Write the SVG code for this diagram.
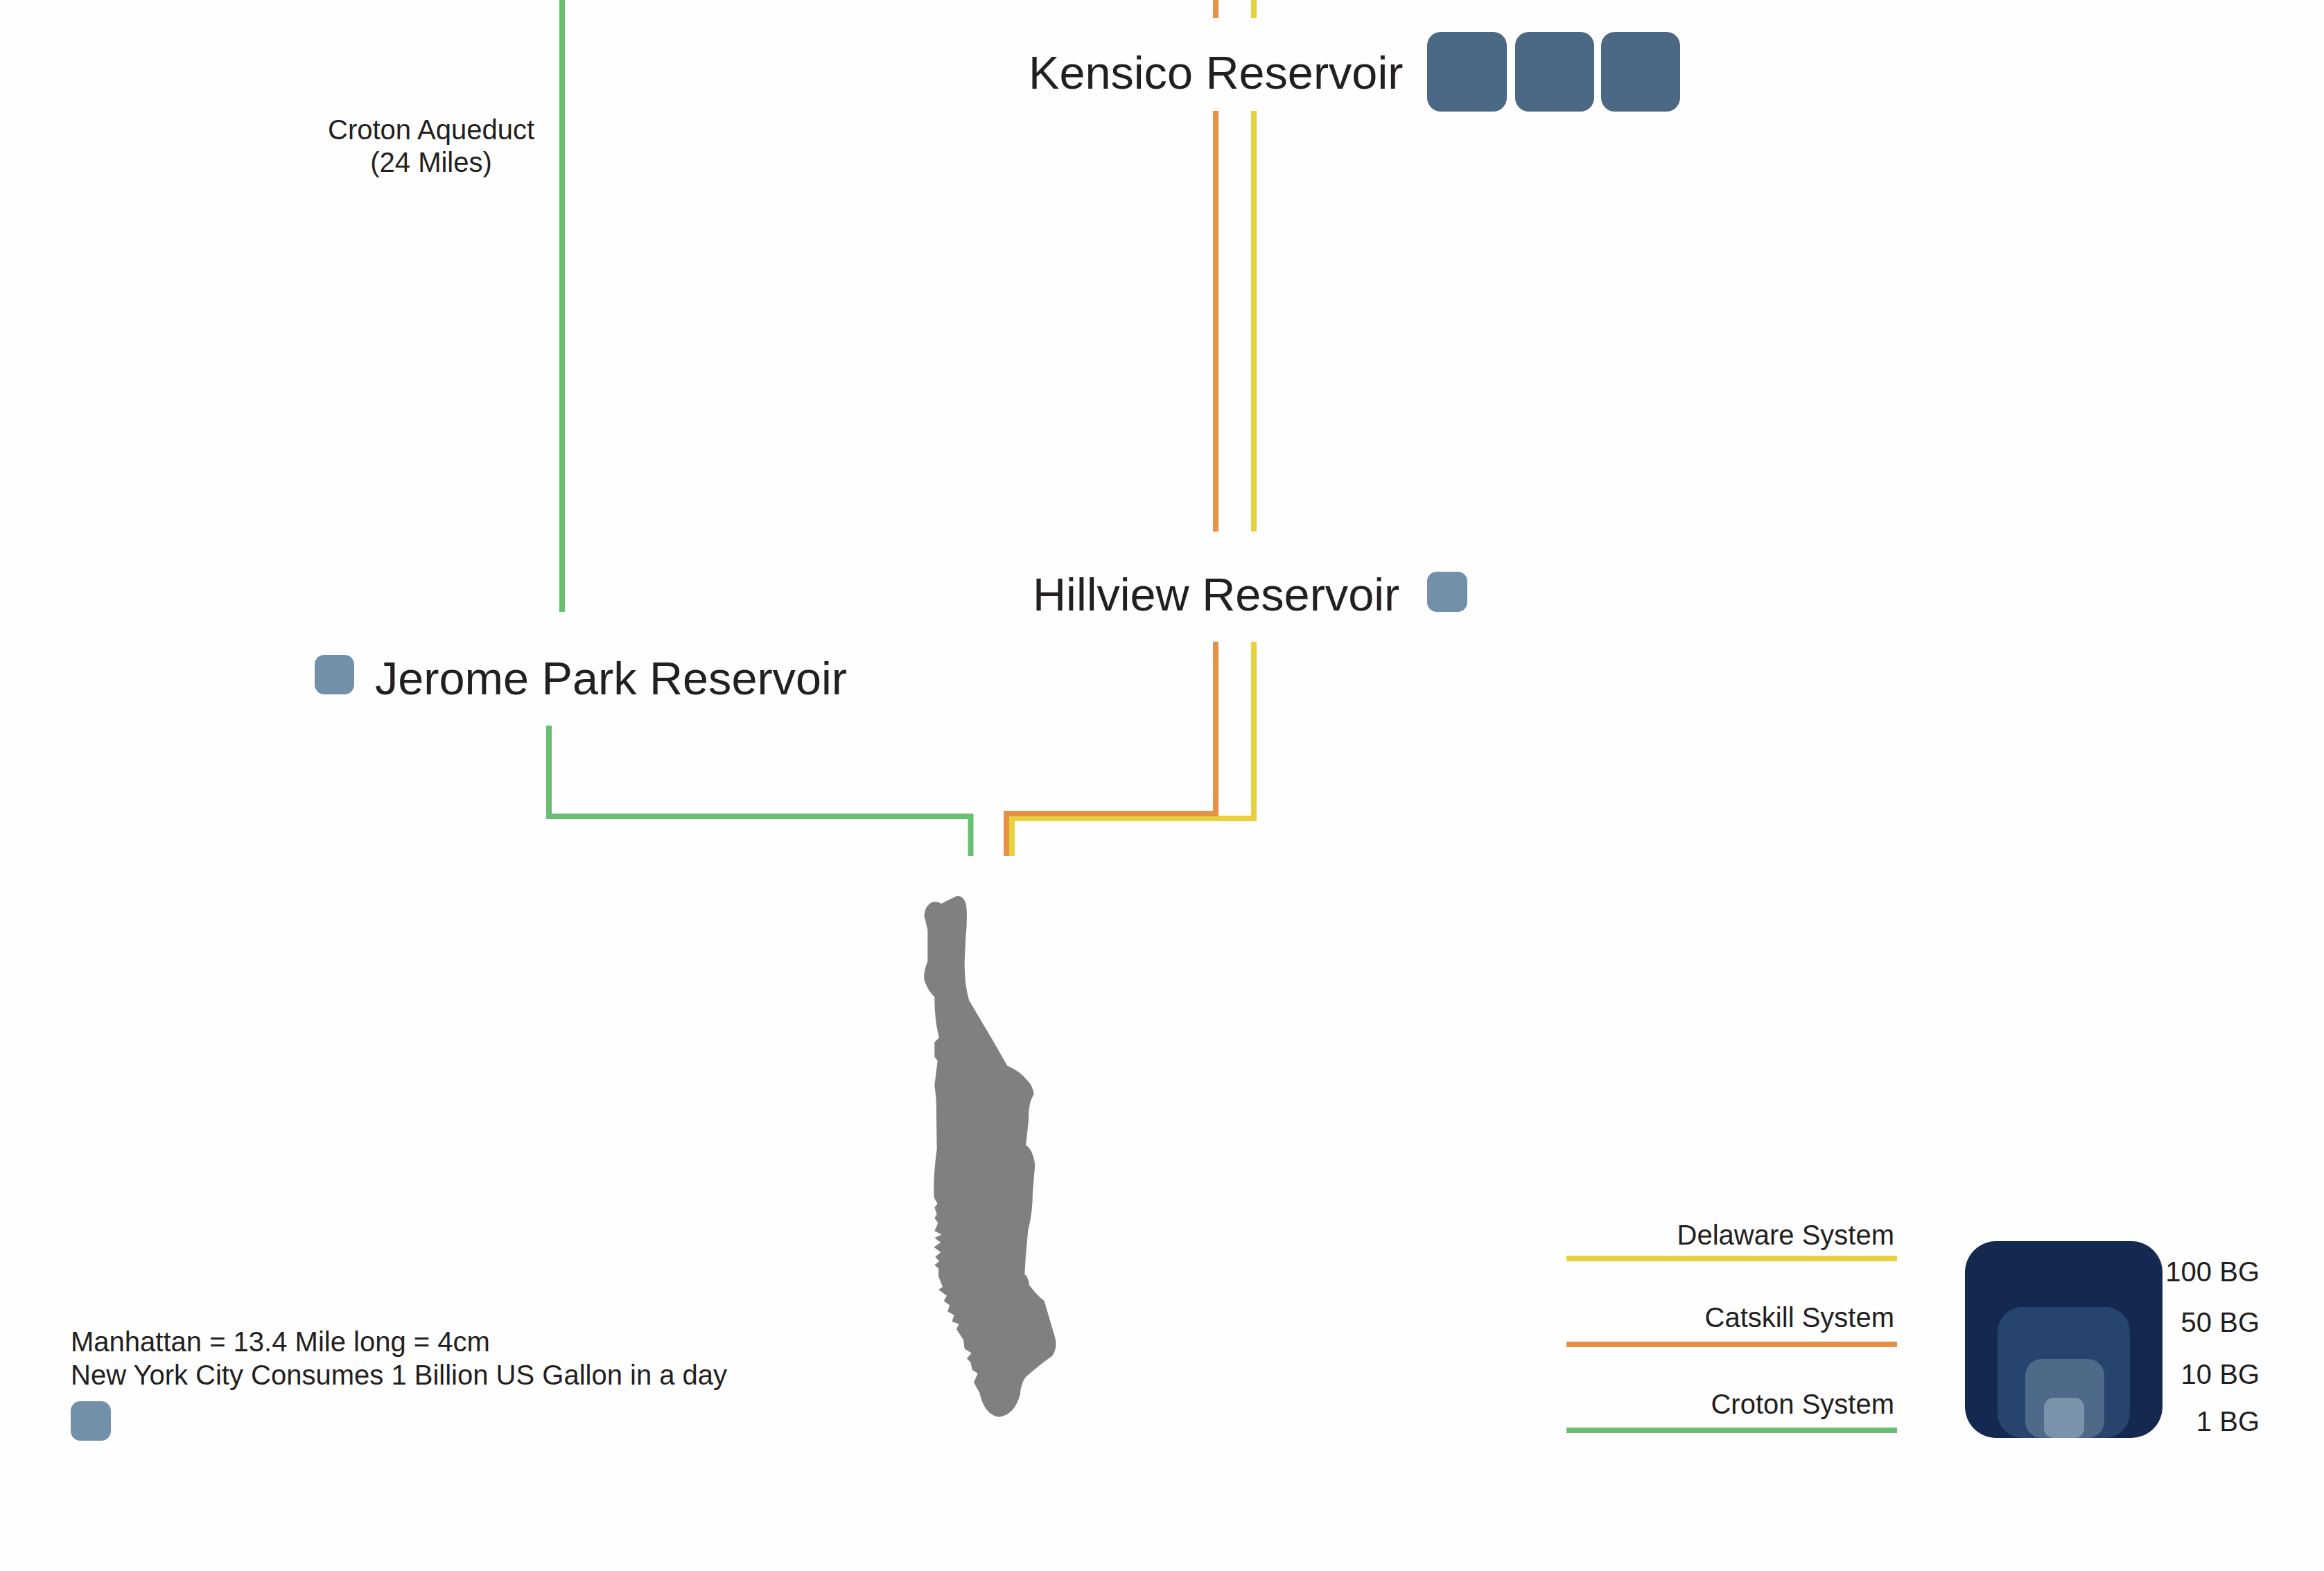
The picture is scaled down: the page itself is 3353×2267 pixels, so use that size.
<svg xmlns="http://www.w3.org/2000/svg" width="3353" height="2267" viewBox="0 0 3353 2267">
<style>
text{font-family:"Liberation Sans",Arial,sans-serif;fill:#231f20}
.big{font-size:66.6px}
.mid{font-size:40px}
.end{text-anchor:end}
.mid-a{text-anchor:middle}
.line{fill:none;stroke-width:8;stroke-linejoin:miter}
.y{stroke:#e8d03f}.o{stroke:#e59146}.g{stroke:#68bf72}
.b1{fill:#4b6885}.b2{fill:#7390a9}
</style>
<rect width="3353" height="2267" fill="#fefefe"/>
<g id="connectors">
<path class="line g" d="M811 0V883"/>
<path class="line g" d="M792 1047V1178H1400.500V1235"/>
<path class="line y" d="M1809 0V26M1809 160V767M1809 926V1181H1460V1235"/>
<path class="line o" d="M1754 0V26M1754 160V767M1754 926V1174H1452V1235"/>
</g>
<g id="kensico">
<text class="big" x="1484" y="128">Kensico Reservoir</text>
<rect class="b1" x="2059" y="46" width="115" height="115" rx="20"/>
<rect class="b1" x="2186" y="46" width="114" height="115" rx="20"/>
<rect class="b1" x="2310" y="46" width="114" height="115" rx="20"/>
</g>
<g id="hillview">
<text class="big" x="1490" y="881">Hillview Reservoir</text>
<rect class="b2" x="2059" y="825" width="58" height="58" rx="14"/>
</g>
<g id="jerome">
<rect class="b2" x="454" y="945" width="57" height="57" rx="14"/>
<text class="big" x="541" y="1002">Jerome Park Reservoir</text>
</g>
<g id="croton-aqueduct">
<text class="mid mid-a" x="622" y="201">Croton Aqueduct</text>
<text class="mid mid-a" x="622" y="248">(24 Miles)</text>
</g>
<g id="manhattan">
<path fill="#7f8080" transform="translate(1280 1260) scale(.33333 .5102)" d="M160 120Q165 90 195 82Q215 78 235 86Q265 75 300 65Q335 62 343 95Q348 130 340 180L335 250Q335 320 355 360L400 410L450 465L520 545Q575 560 605 585Q630 600 635 625Q610 650 612 700L600 770Q630 780 640 825L630 900Q630 960 610 1010L600 1080L595 1135Q610 1140 615 1165Q650 1195 680 1210L725 1310Q740 1340 715 1365Q660 1390 600 1425Q580 1440 575 1475Q550 1535 480 1538Q420 1530 400 1470L375 1440L392 1415L368 1405L362 1385L345 1372L365 1358L335 1345L330 1320L315 1305L300 1290L310 1275L280 1268L290 1250L262 1240L270 1222L245 1210L258 1195L222 1178L240 1170L222 1140L222 1118L205 1108L225 1098L208 1085L232 1072L202 1058L232 1044L205 1032L235 1022L205 1012L220 990L205 975L215 965L205 945L218 935L203 918Q198 860 215 780L212 640L205 600L218 530L205 520L205 478L225 465Q205 420 205 350Q180 335 165 310Q150 290 175 250L175 160Z"/>
</g>
<g id="note">
<text class="mid" x="102" y="1950">Manhattan = 13.4 Mile long = 4cm</text>
<text class="mid" x="102" y="1998">New York City Consumes 1 Billion US Gallon in a day</text>
<rect class="b2" x="102" y="2022" width="58" height="57" rx="14"/>
</g>
<g id="legend-systems">
<text class="mid end" x="2733" y="1796">Delaware System</text>
<rect x="2260" y="1812" width="477" height="8" fill="#e8d03f"/>
<text class="mid end" x="2733" y="1915">Catskill System</text>
<rect x="2260" y="1936" width="477" height="8" fill="#e59146"/>
<text class="mid end" x="2733" y="2040">Croton System</text>
<rect x="2260" y="2060" width="477" height="8" fill="#68bf72"/>
</g>
<g id="legend-scale">
<rect x="2835" y="1791" width="285" height="284" rx="45" fill="#152850"/>
<rect x="2882" y="1886" width="191" height="189" rx="36" fill="#27456c"/>
<rect x="2922" y="1961" width="114" height="114" rx="24" fill="#4f6a88"/>
<rect x="2949" y="2017" width="58" height="58" rx="14" fill="#7a93aa"/>
<text class="mid end" x="3260" y="1849">100 BG</text>
<text class="mid end" x="3260" y="1922">50 BG</text>
<text class="mid end" x="3260" y="1997">10 BG</text>
<text class="mid end" x="3260" y="2065">1 BG</text>
</g>
</svg>
